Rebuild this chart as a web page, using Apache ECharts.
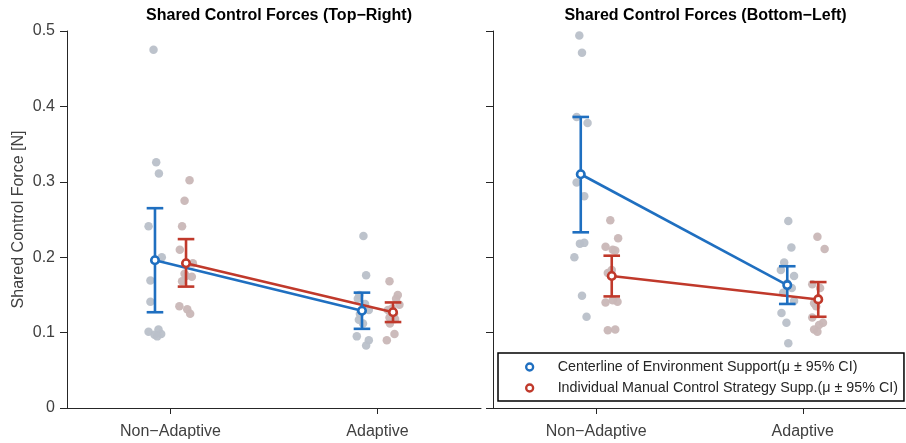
<!DOCTYPE html>
<html>
<head>
<meta charset="utf-8">
<script src="https://cdn.jsdelivr.net/npm/echarts@6/dist/echarts.min.js"></script>
<style>
  html, body { margin: 0; padding: 0; background: #fff; }
  #chart { width: 906px; height: 443px; }
</style>
</head>
<body>
<div id="chart"></div>
<script>
// ---------------- DATA ----------------
const categories = ['Non−Adaptive', 'Adaptive'];
const panelTitles = ['Shared Control Forces (Top−Right)', 'Shared Control Forces (Bottom−Left)'];
const groupNames = [
  'Centerline of Environment Support(μ ± 95% CI)',
  'Individual Manual Control Strategy Supp.(μ ± 95% CI)'
];
const yAxisName = 'Shared Control Force [N]';

// Panel 1 (Top-Right): means and 95% CI per category
const meanTR_center = [0.196, 0.129];
const ciLowTR_center = [0.127, 0.105];
const ciHighTR_center = [0.265, 0.153];
const meanTR_indiv = [0.192, 0.127];
const ciLowTR_indiv = [0.161, 0.114];
const ciHighTR_indiv = [0.224, 0.140];

// Panel 2 (Bottom-Left)
const meanBL_center = [0.310, 0.163];
const ciLowBL_center = [0.233, 0.138];
const ciHighBL_center = [0.386, 0.188];
const meanBL_indiv = [0.175, 0.144];
const ciLowBL_indiv = [0.148, 0.121];
const ciHighBL_indiv = [0.202, 0.167];

// Individual participant values: [jitter offset from category, value]
const ptsTR_center_NA = [[-0.082,0.475],[-0.069,0.326],[-0.056,0.311],[-0.106,0.241],[-0.042,0.200],[-0.097,0.169],[-0.097,0.141],[-0.106,0.101],[-0.058,0.104],[-0.077,0.097],[-0.045,0.098],[-0.064,0.095]];
const ptsTR_indiv_NA  = [[0.092,0.302],[0.068,0.275],[0.056,0.241],[0.045,0.210],[0.108,0.192],[0.068,0.178],[0.103,0.174],[0.056,0.168],[0.043,0.135],[0.081,0.131],[0.095,0.125],[0.075,0.175]];
const ptsTR_center_A  = [[-0.068,0.228],[-0.055,0.176],[-0.095,0.145],[-0.042,0.130],[-0.090,0.117],[-0.100,0.095],[-0.042,0.090],[-0.055,0.083],[-0.088,0.150],[-0.060,0.138],[-0.085,0.125],[-0.070,0.112]];
const ptsTR_indiv_A   = [[0.058,0.168],[0.098,0.150],[0.106,0.137],[0.050,0.130],[0.058,0.120],[0.082,0.098],[0.045,0.090],[0.090,0.145],[0.070,0.132],[0.080,0.125],[0.060,0.112],[0.085,0.118]];

const ptsBL_center_NA = [[-0.082,0.494],[-0.069,0.471],[-0.095,0.386],[-0.042,0.378],[-0.095,0.299],[-0.058,0.281],[-0.079,0.218],[-0.058,0.219],[-0.106,0.200],[-0.069,0.149],[-0.047,0.121],[-0.075,0.310]];
const ptsBL_indiv_NA  = [[0.068,0.249],[0.106,0.225],[0.045,0.214],[0.080,0.210],[0.092,0.209],[0.056,0.179],[0.045,0.140],[0.103,0.141],[0.080,0.143],[0.056,0.103],[0.092,0.104],[0.075,0.183]];
const ptsBL_center_A  = [[-0.070,0.248],[-0.055,0.213],[-0.090,0.193],[-0.106,0.183],[-0.042,0.175],[-0.053,0.159],[-0.095,0.153],[-0.042,0.142],[-0.103,0.126],[-0.079,0.113],[-0.070,0.086],[-0.075,0.165]];
const ptsBL_indiv_A   = [[0.071,0.227],[0.106,0.211],[0.046,0.164],[0.084,0.159],[0.055,0.139],[0.046,0.120],[0.098,0.113],[0.079,0.110],[0.055,0.104],[0.071,0.101],[0.075,0.145],[0.065,0.135]];

// ---------------- STYLE / LAYOUT ----------------
const FONT = '"Liberation Sans", Arial, Helvetica, sans-serif';
const BLUE = '#1f6fc0';
const RED = '#c0392b';
const PT_BLUE = '#b9c0c9';
const PT_RED = '#c9b7b7';
const AXIS_COL = '#262626';
const LABEL_COL = '#404040';
const groupOffset = [-0.075, 0.075];

const panels = [
  {
    title: panelTitles[0],
    center: { mean: meanTR_center, lo: ciLowTR_center, hi: ciHighTR_center, pts: [ptsTR_center_NA, ptsTR_center_A] },
    indiv:  { mean: meanTR_indiv,  lo: ciLowTR_indiv,  hi: ciHighTR_indiv,  pts: [ptsTR_indiv_NA,  ptsTR_indiv_A] }
  },
  {
    title: panelTitles[1],
    center: { mean: meanBL_center, lo: ciLowBL_center, hi: ciHighBL_center, pts: [ptsBL_center_NA, ptsBL_center_A] },
    indiv:  { mean: meanBL_indiv,  lo: ciLowBL_indiv,  hi: ciHighBL_indiv,  pts: [ptsBL_indiv_NA,  ptsBL_indiv_A] }
  }
];

const grids = [
  { left: 67, top: 31, width: 414, height: 377 },
  { left: 493, top: 31, width: 415, height: 377 }
];

function catPos(i) { return i + 1; }

const xAxes = grids.map((g, p) => ({
  type: 'value', gridIndex: p, min: 0.5, max: 2.5,
  axisLine: { show: true, lineStyle: { color: AXIS_COL, width: 1 } },
  splitLine: { show: false },
  axisTick: { show: true, customValues: categories.map((c, i) => catPos(i)), length: 6, lineStyle: { color: AXIS_COL, width: 1 } },
  axisLabel: {
    show: true, customValues: categories.map((c, i) => catPos(i)),
    formatter: v => categories[Math.round(v) - 1] || '',
    fontSize: 16, color: LABEL_COL, fontFamily: FONT, margin: 16
  }
}));

const yAxes = grids.map((g, p) => ({
  type: 'value', gridIndex: p, min: 0, max: 0.5, interval: 0.1,
  axisLine: { show: true, lineStyle: { color: AXIS_COL, width: 1 } },
  splitLine: { show: false },
  axisTick: { show: true, length: 7, lineStyle: { color: AXIS_COL, width: 1 } },
  axisLabel: {
    show: p === 0, fontSize: 16, color: LABEL_COL, fontFamily: FONT, margin: 12,
    formatter: v => String(Math.round(v * 10) / 10)
  },
  name: p === 0 ? yAxisName : '',
  nameLocation: 'middle', nameGap: 40,
  nameTextStyle: { fontSize: 16, color: LABEL_COL, fontFamily: FONT }
}));

function errorBarRender(params, api) {
  const x = api.value(0);
  const lo = api.value(1);
  const hi = api.value(2);
  const pLo = api.coord([x, lo]);
  const pHi = api.coord([x, hi]);
  const half = 8.3;
  const style = { stroke: api.visual('color'), lineWidth: 2.6, fill: null };
  return {
    type: 'group',
    children: [
      { type: 'line', shape: { x1: pLo[0], y1: pLo[1], x2: pHi[0], y2: pHi[1] }, style },
      { type: 'line', shape: { x1: pLo[0] - half, y1: pLo[1], x2: pLo[0] + half, y2: pLo[1] }, style },
      { type: 'line', shape: { x1: pHi[0] - half, y1: pHi[1], x2: pHi[0] + half, y2: pHi[1] }, style }
    ]
  };
}

const series = [];
panels.forEach((panel, p) => {
  const groups = [
    { g: panel.center, color: BLUE, ptColor: PT_BLUE, name: groupNames[0], off: groupOffset[0] },
    { g: panel.indiv, color: RED, ptColor: PT_RED, name: groupNames[1], off: groupOffset[1] }
  ];
  groups.forEach(G => {
    const pts = [];
    G.g.pts.forEach((arr, ci) => arr.forEach(d => pts.push([catPos(ci) + d[0], d[1]])));
    series.push({
      type: 'scatter', xAxisIndex: p, yAxisIndex: p, data: pts,
      symbol: 'circle', symbolSize: 8.5, silent: true, z: 1,
      itemStyle: { color: G.ptColor, opacity: 0.95 }
    });
  });
  groups.forEach(G => {
    const meanData = G.g.mean.map((m, ci) => [catPos(ci) + G.off, m]);
    series.push({
      type: 'line', xAxisIndex: p, yAxisIndex: p, data: meanData,
      symbol: 'none', silent: true, z: 2,
      lineStyle: { color: G.color, width: 2.6 }
    });
    series.push({
      type: 'custom', xAxisIndex: p, yAxisIndex: p, silent: true, z: 3,
      itemStyle: { color: G.color },
      encode: { x: 0, y: [1, 2] },
      data: G.g.mean.map((m, ci) => [catPos(ci) + G.off, G.g.lo[ci], G.g.hi[ci]]),
      renderItem: errorBarRender
    });
    series.push({
      type: 'scatter', name: G.name, xAxisIndex: p, yAxisIndex: p, data: meanData,
      symbol: 'circle', symbolSize: 7.5, z: 4,
      itemStyle: { color: '#ffffff', borderColor: G.color, borderWidth: 2.6, opacity: 1 }
    });
  });
});

const option = {
  animation: false,
  backgroundColor: '#ffffff',
  textStyle: { fontFamily: FONT },
  title: panels.map((panel, p) => ({
    text: panel.title,
    left: grids[p].left + grids[p].width / 2,
    textAlign: 'center',
    top: 3,
    textStyle: { fontSize: 16, fontWeight: 'bold', color: '#000', fontFamily: FONT }
  })),
  grid: grids,
  xAxis: xAxes,
  yAxis: yAxes,
  legend: {
    orient: 'vertical', left: 498, top: 353,
    padding: [7, 6, 6, 27],
    itemWidth: 46, itemHeight: 7, itemGap: 7,
    backgroundColor: '#ffffff', borderColor: '#000000', borderWidth: 1.5,
    textStyle: { fontSize: 14.3, color: AXIS_COL, fontFamily: FONT },
    selectedMode: false, z: 10,
    data: [
      { name: groupNames[0], icon: 'circle', itemStyle: { color: '#fff', borderColor: BLUE, borderWidth: 2.3 } },
      { name: groupNames[1], icon: 'circle', itemStyle: { color: '#fff', borderColor: RED, borderWidth: 2.3 } }
    ]
  },
  series: series
};

const chart = echarts.init(document.getElementById('chart'), null, { renderer: 'canvas' });
chart.setOption(option);
</script>
</body>
</html>
